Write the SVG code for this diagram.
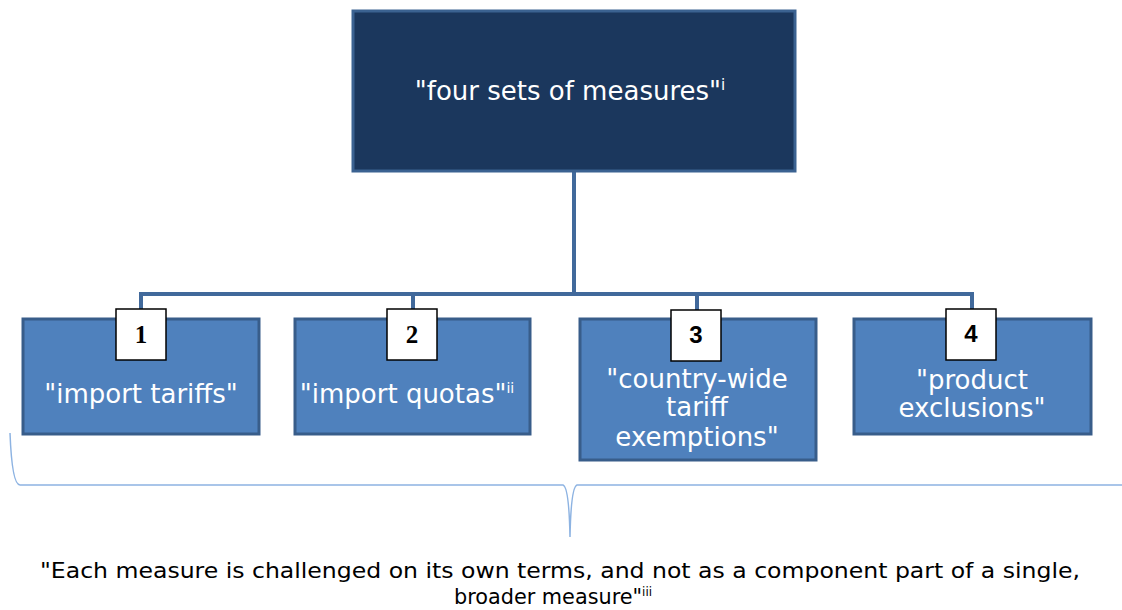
<svg xmlns="http://www.w3.org/2000/svg" width="1122" height="610" viewBox="0 0 1122 610">
<style>
.lbl{font-family:"DejaVu Sans",Verdana,sans-serif;fill:#ffffff;font-size:26px;text-anchor:middle}
.num{font-family:"Liberation Serif","Times New Roman",serif;font-weight:bold;font-size:25px;fill:#000;text-anchor:middle}
.nums{font-family:"Liberation Sans",Arial,sans-serif;font-weight:bold;font-size:24px;fill:#000;text-anchor:middle}
.box{fill:#4f81bd;stroke:#385d8a;stroke-width:3}
.nb{fill:#ffffff;stroke:#000;stroke-width:1.5}
.conn{fill:none;stroke:#41699b;stroke-width:4}
.note{font-family:"Liberation Sans Narrow","DejaVu Sans Condensed",sans-serif;font-size:21px;fill:#000}
</style>
<rect width="1122" height="610" fill="#ffffff"/>
<g id="connectors">
<path class="conn" d="M574 171 V294 M141 318 V294 H972 V318 M413 294 V318 M697 294 V318"/>
<path d="M10 433 Q12 485 20 485 H563 Q569 487 570 537 Q571 487 577 485 H1122" fill="none" stroke="#8db3e2" stroke-width="1.5"/>
</g>
<g id="top">
<rect x="353" y="11" width="442" height="160" fill="#1b375d" stroke="#3b6291" stroke-width="3"/>
<text class="lbl" x="570" y="100">"four sets of measures"<tspan font-size="15" dy="-10">i</tspan></text>
</g>
<g id="n1">
<rect class="box" x="23" y="319" width="236" height="115"/>
<rect class="nb" x="116" y="309" width="50" height="51"/>
<text class="num" x="141" y="343">1</text>
<text class="lbl" x="141" y="403">"import tariffs"</text>
</g>
<g id="n2">
<rect class="box" x="295" y="319" width="235" height="115"/>
<rect class="nb" x="387" y="309" width="50" height="51"/>
<text class="num" x="412" y="343">2</text>
<text class="lbl" x="407" y="403">"import quotas"<tspan font-size="14" dy="-10">ii</tspan></text>
</g>
<g id="n3">
<rect class="box" x="580" y="319" width="236" height="141"/>
<rect class="nb" x="671" y="310" width="50" height="51"/>
<text class="nums" x="696" y="343">3</text>
<text class="lbl" x="697" y="388">"country-wide</text>
<text class="lbl" x="697" y="416">tariff</text>
<text class="lbl" x="697" y="446">exemptions"</text>
</g>
<g id="n4">
<rect class="box" x="854" y="319" width="237" height="115"/>
<rect class="nb" x="946" y="309" width="50" height="51"/>
<text class="nums" x="971" y="342">4</text>
<text class="lbl" x="972" y="389">"product</text>
<text class="lbl" x="972" y="417">exclusions"</text>
</g>
<g id="note">
<text class="note" x="40" y="578" textLength="1040" lengthAdjust="spacingAndGlyphs">"Each measure is challenged on its own terms, and not as a component part of a single,</text>
<text class="note" x="454" y="604" textLength="198" lengthAdjust="spacingAndGlyphs">broader measure"<tspan font-size="12" dy="-8">iii</tspan></text>
</g>
</svg>
